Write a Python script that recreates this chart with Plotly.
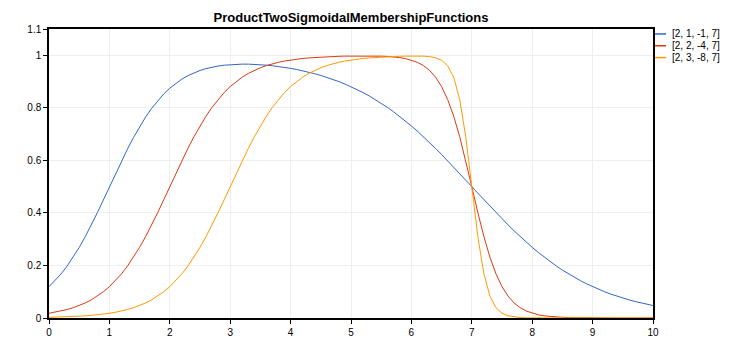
import plotly.graph_objects as go

# Sample positions along the x axis (0 .. 10, step 0.1)
x_values = [round(i * 0.1, 1) for i in range(101)]

series_names = ["[2, 1, -1, 7]", "[2, 2, -4, 7]", "[2, 3, -8, 7]"]
series_colors = ["#3366CC", "#DC3912", "#FF9900"]

# Membership degree for parameters [2, 1, -1, 7]
mf_2_1_m1_7 = [
    0.1191, 0.1417, 0.1678, 0.1976, 0.2312, 0.2685, 0.3095, 0.3537, 0.4005, 0.4492,
    0.4988, 0.5483, 0.5969, 0.6435, 0.6874, 0.7281, 0.7651, 0.7982, 0.8274, 0.8529,
    0.8749, 0.8936, 0.9093, 0.9225, 0.9333, 0.9421, 0.9492, 0.9548, 0.9590, 0.9622,
    0.9644, 0.9657, 0.9663, 0.9662, 0.9655, 0.9642, 0.9624, 0.9601, 0.9573, 0.9540,
    0.9502, 0.9459, 0.9411, 0.9358, 0.9298, 0.9233, 0.9161, 0.9083, 0.8998, 0.8905,
    0.8805, 0.8697, 0.8580, 0.8454, 0.8319, 0.8175, 0.8021, 0.7858, 0.7685, 0.7502,
    0.7310, 0.7109, 0.6900, 0.6682, 0.6456, 0.6224, 0.5987, 0.5744, 0.5498, 0.5250,
    0.5000, 0.4750, 0.4502, 0.4256, 0.4013, 0.3775, 0.3543, 0.3318, 0.3100, 0.2891,
    0.2689, 0.2497, 0.2315, 0.2142, 0.1978, 0.1824, 0.1680, 0.1545, 0.1419, 0.1301,
    0.1192, 0.1091, 0.0998, 0.0911, 0.0832, 0.0759, 0.0691, 0.0630, 0.0573, 0.0522,
    0.0474,
]

# Membership degree for parameters [2, 2, -4, 7]
mf_2_2_m4_7 = [
    0.0180, 0.0219, 0.0266, 0.0323, 0.0392, 0.0474, 0.0573, 0.0691, 0.0832, 0.0998,
    0.1192, 0.1419, 0.1680, 0.1978, 0.2315, 0.2689, 0.3100, 0.3543, 0.4013, 0.4502,
    0.5000, 0.5498, 0.5987, 0.6457, 0.6900, 0.7311, 0.7685, 0.8022, 0.8320, 0.8581,
    0.8808, 0.9003, 0.9168, 0.9309, 0.9427, 0.9526, 0.9608, 0.9677, 0.9734, 0.9781,
    0.9820, 0.9852, 0.9879, 0.9900, 0.9918, 0.9933, 0.9945, 0.9954, 0.9962, 0.9968,
    0.9972, 0.9975, 0.9976, 0.9975, 0.9972, 0.9966, 0.9956, 0.9939, 0.9913, 0.9875,
    0.9817, 0.9731, 0.9606, 0.9425, 0.9167, 0.8807, 0.8319, 0.7685, 0.6899, 0.5987,
    0.5000, 0.4013, 0.3100, 0.2315, 0.1680, 0.1192, 0.0832, 0.0573, 0.0392, 0.0266,
    0.0180, 0.0121, 0.0082, 0.0055, 0.0037, 0.0025, 0.0017, 0.0011, 0.0007, 0.0005,
    0.0003, 0.0002, 0.0002, 0.0001, 0.0001, 0.0000, 0.0000, 0.0000, 0.0000, 0.0000,
    0.0000,
]

# Membership degree for parameters [2, 3, -8, 7]
mf_2_3_m8_7 = [
    0.0025, 0.0030, 0.0037, 0.0045, 0.0055, 0.0067, 0.0082, 0.0100, 0.0121, 0.0148,
    0.0180, 0.0219, 0.0266, 0.0323, 0.0392, 0.0474, 0.0573, 0.0691, 0.0832, 0.0998,
    0.1192, 0.1419, 0.1680, 0.1978, 0.2315, 0.2689, 0.3100, 0.3543, 0.4013, 0.4502,
    0.5000, 0.5498, 0.5987, 0.6457, 0.6900, 0.7311, 0.7685, 0.8022, 0.8320, 0.8581,
    0.8808, 0.9003, 0.9168, 0.9309, 0.9427, 0.9526, 0.9608, 0.9677, 0.9734, 0.9781,
    0.9820, 0.9852, 0.9879, 0.9900, 0.9918, 0.9933, 0.9945, 0.9955, 0.9962, 0.9968,
    0.9972, 0.9972, 0.9967, 0.9950, 0.9907, 0.9811, 0.9601, 0.9163, 0.8316, 0.6897,
    0.4998, 0.3099, 0.1680, 0.0832, 0.0392, 0.0180, 0.0082, 0.0037, 0.0017, 0.0007,
    0.0003, 0.0002, 0.0001, 0.0000, 0.0000, 0.0000, 0.0000, 0.0000, 0.0000, 0.0000,
    0.0000, 0.0000, 0.0000, 0.0000, 0.0000, 0.0000, 0.0000, 0.0000, 0.0000, 0.0000,
    0.0000,
]

series_values = [mf_2_1_m1_7, mf_2_2_m4_7, mf_2_3_m8_7]

x_tick_values = list(range(0, 11))
y_tick_values = [0, 0.2, 0.4, 0.6, 0.8, 1, 1.1]
y_tick_labels = ["0", "0.2", "0.4", "0.6", "0.8", "1", "1.1"]

FONT = "Liberation Sans, Arial, sans-serif"
W, H = 750, 350
M_L, M_R, M_T, M_B = 49, 97, 29, 28

fig = go.Figure()
for name, color, values in zip(series_names, series_colors, series_values):
    fig.add_trace(go.Scatter(
        x=x_values, y=values, mode="lines", name=name,
        line=dict(color=color, width=1),
        showlegend=False,
    ))

# Compact legend: short line sample followed by the series label
plot_w = W - M_L - M_R
plot_h = H - M_T - M_B
for i, (name, color) in enumerate(zip(series_names, series_colors)):
    py = 34 + i * 12
    yp = (H - M_B - py) / plot_h
    x0 = (655 - M_L) / plot_w
    x1 = (666 - M_L) / plot_w
    fig.add_shape(type="line", xref="paper", yref="paper",
                  x0=x0, x1=x1, y0=yp, y1=yp,
                  line=dict(color=color, width=1.5))
    fig.add_annotation(xref="paper", yref="paper", x=(670 - M_L) / plot_w, y=yp,
                       text=name, showarrow=False, xanchor="left", yanchor="middle",
                       font=dict(family=FONT, size=10, color="#000000"))

axis_common = dict(
    showline=True, linecolor="#000000", linewidth=1.5, mirror=True,
    ticks="outside", ticklen=4, tickwidth=1, tickcolor="#000000",
    showgrid=True, gridcolor="#efefef", gridwidth=1,
    zeroline=False,
    tickfont=dict(family=FONT, size=10, color="#000000"),
)

fig.update_xaxes(range=[0, 10], tickvals=x_tick_values, **axis_common)
fig.update_yaxes(range=[0, 1.1], tickvals=y_tick_values, ticktext=y_tick_labels, **axis_common)

fig.update_layout(
    width=W, height=H,
    margin=dict(l=M_L, r=M_R, t=M_T, b=M_B),
    paper_bgcolor="#ffffff", plot_bgcolor="#ffffff",
    title=dict(text="<b>ProductTwoSigmoidalMembershipFunctions</b>",
               x=(M_L + plot_w / 2) / W, xanchor="center",
               y=1 - 17 / H, yanchor="middle",
               font=dict(family=FONT, size=13, color="#000000")),
    font=dict(family=FONT, size=10, color="#000000"),
)

fig.write_html("out.html")
